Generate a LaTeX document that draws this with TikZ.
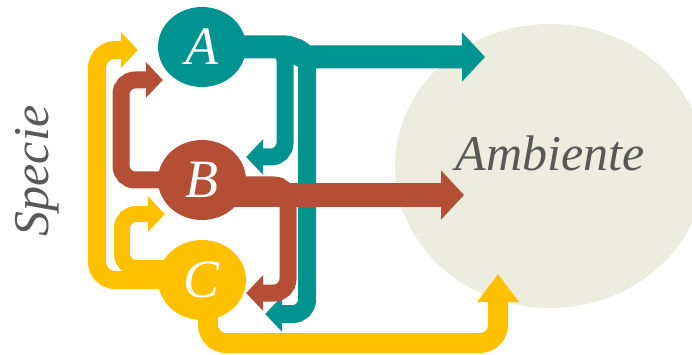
\documentclass[tikz,border=0pt]{standalone}
\usepackage{fontspec}
\setmainfont{Liberation Serif}
\usetikzlibrary{arrows.meta,shapes.geometric}

\definecolor{tealA}{RGB}{0,147,144}
\definecolor{rustB}{RGB}{180,78,52}
\definecolor{goldC}{RGB}{255,192,0}
\definecolor{envfill}{RGB}{236,236,223}
\definecolor{labelgray}{RGB}{88,88,88}

\pgfdeclarelayer{back}
\pgfdeclarelayer{links}
\pgfsetlayers{back,links,main}

\tikzset{
	specie/.style={ellipse,
		minimum width=88pt,
		minimum height=80pt,
		inner sep=0pt,
		text=white,
		font=\fontsize{54}{54}\selectfont\itshape},
	link/.style={line width=17pt,
		rounded corners=14pt,
		-{Triangle[length=17pt,width=35pt]}},
	biglink/.style={line width=23pt,
		rounded corners=6pt,
		-{Triangle[length=23pt,width=48pt]}}
}

\begin{document}
\begin{tikzpicture}[x=1pt,y=-1pt]
\useasboundingbox (0,0) rectangle (692,355);

% Environment
\begin{pgfonlayer}{back}
\node [ellipse,
	fill=envfill,
	minimum width=310pt,
	minimum height=284pt] (amb) at (550,166){};
\end{pgfonlayer}
\node [text=labelgray,
	font=\fontsize{50}{50}\selectfont\itshape] (ambtext) at (550,153){Ambiente};

% Species
\node [specie, fill=tealA] (A) at (202,47){A};
\node [specie, fill=rustB] (B) at (202,180){B};
\node [specie, fill=goldC] (C) at (202,280){C};
\node [rotate=90,
	text=labelgray,
	font=\fontsize{50}{50}\selectfont\itshape] (specie) at (37,171){Specie};

\begin{pgfonlayer}{links}
% A
\draw[link, tealA] (A.center) -- (285,47) -- (285,157) -- (B.east |- 0,157);
\draw[link, tealA, line width=18pt] (A.center) -- (307,47) -- (307,314) -- ([xshift=19pt]C.east |- 0,314);
\draw[biglink, tealA] (A.center) -- (292,47) -- (301,57) -- ([shift={(-65,-109)}]amb.center);

% B
\draw[link, rustB] (B.center) -- (121,180) -- (121,80) -- ([xshift=5pt]A.west |- 0,80);
\draw[link, rustB] (B.center |- 0,185) -- (288,185) -- (288,293) -- (C.east |- 0,293);
\draw[biglink, rustB] (B.center |- 0,195) -- ([shift={(-86,29)}]amb.center);

% C
\draw[link, goldC, line width=18pt, rounded corners=18pt] (C.center) -- (97,280) -- (97,50) -- ([xshift=-20pt]A.west |- 0,50);
\draw[link, goldC, line width=16pt] (C.center |- 0,268) -- (122,268) -- (122,214) -- ([xshift=7pt]B.west |- 0,214);
\draw[goldC, line width=20pt, rounded corners=18pt, -{Triangle[length=28pt,width=40pt]}]
	([xshift=6pt]C.center) -- (208,343) -- (498,343) -- ([shift={(-52,108)}]amb.center);
\end{pgfonlayer}

\end{tikzpicture}
\end{document}
